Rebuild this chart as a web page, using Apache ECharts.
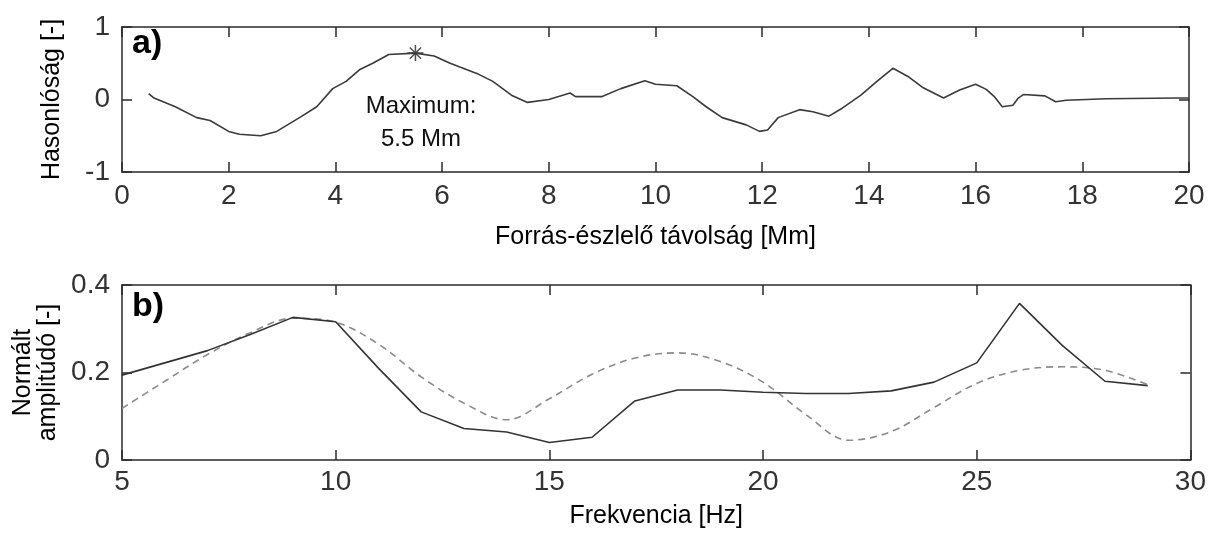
<!DOCTYPE html>
<html>
<head>
<meta charset="utf-8">
<script src="https://cdn.jsdelivr.net/npm/echarts@6/dist/echarts.min.js"></script>
<style>
html,body{margin:0;padding:0;background:#fff;}
#c{width:1209px;height:534px;}
</style>
</head>
<body>
<div id="c"></div>
<script>
// ---- Panel a) data ----
var distance = [0.5, 0.6, 1.0, 1.4, 1.65, 2.0, 2.2, 2.6, 2.9, 3.35, 3.65, 3.95, 4.2, 4.45, 4.7, 5.0, 5.5, 5.85, 6.15, 6.65, 6.95, 7.3, 7.6, 8.0, 8.4, 8.5, 9.0, 9.35, 9.8, 10.0, 10.4, 10.7, 10.95, 11.25, 11.7, 11.95, 12.1, 12.3, 12.7, 12.95, 13.25, 13.5, 13.85, 14.15, 14.45, 14.75, 15.0, 15.4, 15.7, 16.0, 16.2, 16.35, 16.5, 16.7, 16.8, 16.9, 17.3, 17.5, 17.7, 18.45, 19.8, 20.0];
var similarity = [0.08, 0.02, -0.10, -0.25, -0.29, -0.44, -0.48, -0.50, -0.44, -0.24, -0.10, 0.15, 0.25, 0.41, 0.50, 0.62, 0.64, 0.60, 0.50, 0.36, 0.25, 0.06, -0.04, 0.00, 0.09, 0.04, 0.04, 0.15, 0.26, 0.21, 0.19, 0.04, -0.10, -0.25, -0.35, -0.44, -0.42, -0.25, -0.14, -0.17, -0.23, -0.12, 0.06, 0.25, 0.43, 0.31, 0.17, 0.02, 0.13, 0.21, 0.14, 0.04, -0.10, -0.08, 0.02, 0.07, 0.05, -0.03, -0.01, 0.01, 0.02, 0.02];

// ---- Panel b) data ----
var frequency = [5, 6, 7, 8, 9, 10, 11, 12, 13, 14, 15, 16, 17, 18, 19, 20, 21, 22, 23, 24, 25, 26, 27, 28, 29];
var ampSolid  = [0.194, 0.222, 0.250, 0.287, 0.326, 0.316, 0.210, 0.110, 0.072, 0.064, 0.040, 0.052, 0.135, 0.160, 0.160, 0.155, 0.152, 0.152, 0.158, 0.178, 0.222, 0.358, 0.262, 0.180, 0.170];
var ampDashed = [0.118, 0.180, 0.241, 0.291, 0.324, 0.315, 0.265, 0.190, 0.130, 0.092, 0.140, 0.196, 0.233, 0.245, 0.225, 0.178, 0.104, 0.045, 0.065, 0.120, 0.175, 0.205, 0.213, 0.205, 0.172];

// ---- Texts ----
var xNameA = 'Forrás-észlelő távolság [Mm]';
var yNameA = 'Hasonlóság [-]';
var xNameB = 'Frekvencia [Hz]';
var yNameB = 'Normált\namplitúdó [-]';

function pairs(xs, ys){ return xs.map(function(x,i){ return [x, ys[i]]; }); }

var maxIdx = 0;
similarity.forEach(function(v,i){ if (v > similarity[maxIdx]) maxIdx = i; });
var maxX = distance[maxIdx], maxY = similarity[maxIdx];

var FONT = 'Liberation Sans, Arial, sans-serif';
var AX = '#2a2a2a';

function xAx(gi, min, max, interval, name, pos, nameGap, labelMargin){
  var main = pos === 'bottom';
  return {
    type: 'value', gridIndex: gi, min: min, max: max, interval: interval, position: pos,
    name: main ? name : '', nameLocation: 'middle', nameGap: nameGap,
    nameTextStyle: {fontFamily: FONT, fontSize: 25, color: '#000'},
    axisLine: {show: true, onZero: false, lineStyle: {color: AX, width: 1.5}},
    axisTick: {show: true, inside: true, length: 10, lineStyle: {color: AX, width: 1.5}},
    axisLabel: {show: main, fontFamily: FONT, fontSize: 28, color: '#333', margin: labelMargin},
    splitLine: {show: false}
  };
}
function yAx(gi, min, max, interval, name, pos, nameGap, fmt){
  var main = pos === 'left';
  return {
    type: 'value', gridIndex: gi, min: min, max: max, interval: interval, position: pos,
    name: main ? name : '', nameLocation: 'middle', nameGap: nameGap, nameRotate: 90,
    nameTextStyle: {fontFamily: FONT, fontSize: 25, color: '#000', lineHeight: 25},
    axisLine: {show: true, onZero: false, lineStyle: {color: AX, width: 1.5}},
    axisTick: {show: true, inside: true, length: 10, lineStyle: {color: AX, width: 1.5}},
    axisLabel: {show: main, fontFamily: FONT, fontSize: 28, color: '#333', margin: 12, formatter: fmt},
    splitLine: {show: false}
  };
}

var chart = echarts.init(document.getElementById('c'), null, {renderer: 'canvas'});
chart.setOption({
  backgroundColor: '#fff',
  animation: false,
  grid: [
    {left: 122, right: 20, top: 27, height: 145},
    {left: 122, right: 17, top: 285, height: 175}
  ],
  xAxis: [
    xAx(0, 0, 20, 2, xNameA, 'bottom', 53, 10),
    xAx(0, 0, 20, 2, '', 'top', 0, 10),
    xAx(1, 5, 30, 5, xNameB, 'bottom', 44, 8),
    xAx(1, 5, 30, 5, '', 'top', 0, 8)
  ],
  yAxis: [
    yAx(0, -1, 1, 1, yNameA, 'left', 57, function(v){ return String(v); }),
    yAx(0, -1, 1, 1, '', 'right', 0),
    yAx(1, 0, 0.4, 0.2, yNameB, 'left', 54, function(v){ return v === 0 ? '0' : v.toFixed(1); }),
    yAx(1, 0, 0.4, 0.2, '', 'right', 0)
  ],
  series: [
    {
      type: 'line', xAxisIndex: 0, yAxisIndex: 0, data: pairs(distance, similarity),
      showSymbol: false, symbol: 'none', lineStyle: {color: '#3a3a3a', width: 1.6}
    },
    {
      type: 'scatter', xAxisIndex: 0, yAxisIndex: 0, data: [[maxX, maxY]],
      symbol: 'path://M0,-1L0,1M-1,0L1,0M-0.7,-0.7L0.7,0.7M-0.7,0.7L0.7,-0.7',
      symbolSize: 16,
      itemStyle: {color: 'rgba(0,0,0,0)', borderColor: '#222', borderWidth: 1.5}
    },
    {
      type: 'line', xAxisIndex: 2, yAxisIndex: 2, data: pairs(frequency, ampDashed),
      showSymbol: false, symbol: 'none', smooth: 0.35,
      lineStyle: {color: '#8a8a8a', width: 1.6, type: [7, 5]}
    },
    {
      type: 'line', xAxisIndex: 2, yAxisIndex: 2, data: pairs(frequency, ampSolid),
      showSymbol: false, symbol: 'none', lineStyle: {color: '#333', width: 1.6}
    }
  ],
  graphic: [
    {type: 'text', left: 132, top: 27, style: {text: 'a)', font: 'bold 34px ' + FONT, fill: '#000'}},
    {type: 'text', left: 132, top: 290, style: {text: 'b)', font: 'bold 34px ' + FONT, fill: '#000'}},
    {type: 'text', x: 421, y: 90, style: {text: 'Maximum:\n' + maxX + ' Mm', font: '24px ' + FONT, fill: '#111', textAlign: 'center', lineHeight: 33}}
  ]
});
</script>
</body>
</html>
